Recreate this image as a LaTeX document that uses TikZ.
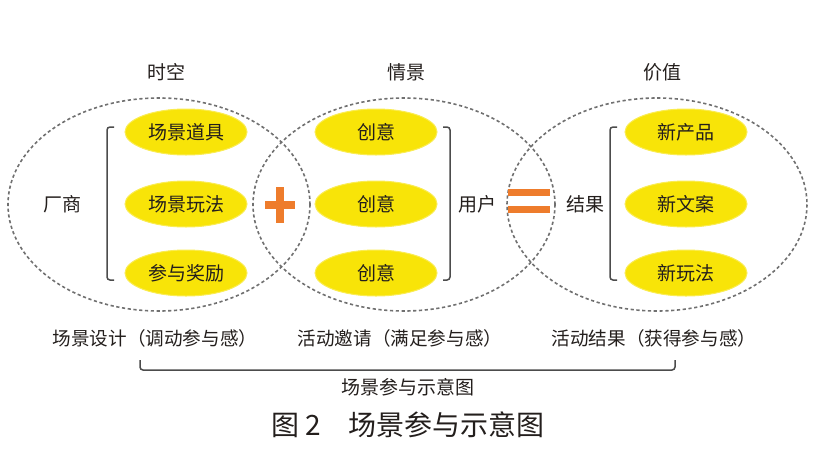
\documentclass[tikz,border=0pt]{standalone}
\usepackage{fontspec}
\setmainfont{Noto Sans CJK SC}
\usepackage{tikz}
\usetikzlibrary{shapes.geometric}

\definecolor{ovalyellow}{RGB}{248,228,8}
\definecolor{signorange}{RGB}{238,124,44}
\definecolor{ringgray}{RGB}{112,112,112}
\definecolor{inkdark}{RGB}{35,30,28}

\tikzset{
  ring/.style={draw=ringgray, line width=1.6pt, dash pattern=on 3.2pt off 2.6pt},
  idea/.style={ellipse, fill=ovalyellow, draw=ovalyellow!70!white, line width=1pt,
    minimum width=122pt, minimum height=46pt, inner sep=0pt, text=inkdark,
    font=\fontsize{19}{19}\selectfont},
  word/.style={text=inkdark, inner sep=0pt, font=\fontsize{19}{19}\selectfont},
  stage/.style={text=inkdark, inner sep=0pt, font=\fontsize{18.6}{18.6}\selectfont},
  bracket/.style={draw=black!70, line width=1.5pt, rounded corners=3pt}
}

\begin{document}
\begin{tikzpicture}[x=1pt, y=-1pt]
    \useasboundingbox (0,0) rectangle (817,461);

    % The three dashed circles
    \draw[ring] (159,204.5) ellipse (151 and 106.5);
    \draw[ring] (404,204.5) ellipse (151 and 106.5);
    \draw[ring] (657,204.5) ellipse (150 and 106.5);

    % Titles
    \node[word] (t1) at (166,72) {时空};
    \node[word] (t2) at (406,72) {情景};
    \node[word] (t3) at (662,72) {价值};

    % Left group
    \node[idea] (a1) at (186,132) {场景道具};
    \node[idea] (a2) at (186,204) {场景玩法};
    \node[idea] (a3) at (186,273) {参与奖励};
    \node[word] (maker) at (62,204) {厂商};
    \draw[bracket] (114,127) -- (107,127) -- (107,280) -- (114,280);

    % Middle group
    \node[idea] (b1) at (376,132) {创意};
    \node[idea] (b2) at (376,204) {创意};
    \node[idea] (b3) at (376,273) {创意};
    \node[word] (user) at (477,204) {用户};
    \draw[bracket] (443,127) -- (450,127) -- (450,280) -- (443,280);

    % Right group
    \node[idea] (c1) at (686,132) {新产品};
    \node[idea] (c2) at (686,204) {新文案};
    \node[idea] (c3) at (686,273) {新玩法};
    \node[word] (result) at (585,204) {结果};
    \draw[bracket] (617,127) -- (610,127) -- (610,280) -- (617,280);

    % Plus and equals
    \fill[signorange] (265,200.5) rectangle (295,208.5);
    \fill[signorange] (275.5,187) rectangle (283.5,223);
    \fill[signorange] (508,189) rectangle (550,196);
    \fill[signorange] (508,206) rectangle (550,213);

    % Stage labels
    \node[stage] (s1) at (155,338) {场景设计（调动参与感）};
    \node[stage] (s2) at (400,338) {活动邀请（满足参与感）};
    \node[stage] (s3) at (654,338) {活动结果（获得参与感）};

    % Brace under the stages
    \draw[bracket] (140,360) -- (140,370) -- (675,370) -- (675,360);
    \node[word] (sum) at (408,387) {场景参与示意图};

    \node[text=inkdark, inner sep=0pt, font=\fontsize{28}{28}\selectfont] (cap) at (408,425) {图 2　场景参与示意图};
\end{tikzpicture}
\end{document}
